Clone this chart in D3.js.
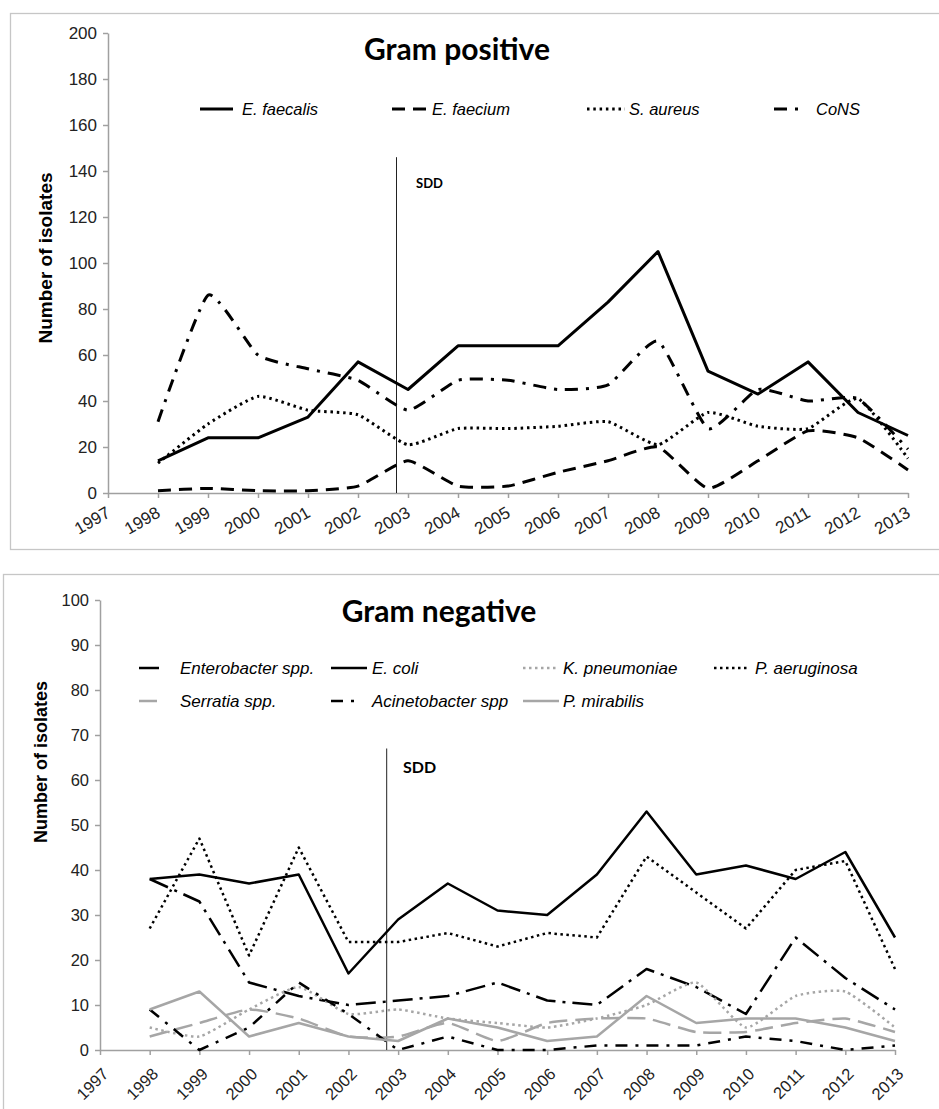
<!DOCTYPE html>
<html lang="en">

<head>
    <meta charset="utf-8">
    <title>Gram positive / Gram negative isolates</title>
    <!-- Import D3 visualization library -->
    <script src="https://d3js.org/d3.v7.min.js"></script>
    <style>
        body { margin: 0; background: white; }
        svg { display: block; }
        .tick text { font-family: "Liberation Sans", Arial, sans-serif; fill: #222; }
    </style>
</head>

<body>
    <div id="chart"></div>

    <script>
        // years on the x axis (1997 is only a tick, data starts in 1998)
        const tickYears = d3.range(1997, 2014);
        const years = d3.range(1998, 2014);
        const sddYear = 2002.77;

        // Gram positive series
        const eFaecalis = [14, 24, 24, 33, 57, 45, 64, 64, 64, 83, 105, 53, 43, 57, 35, 25];
        const eFaecium = [1, 2, 1, 1, 3, 14, 3, 3, 9, 14, 20, 2, 14, 27, 24, 10];
        const sAureus = [13, 30, 42, 36, 34, 21, 28, 28, 29, 31, 21, 35, 29, 28, 41, 15];
        const coNS = [31, 86, 60, 54, 49, 36, 49, 49, 45, 47, 66, 28, 45, 40, 41, 19];
        const posTicks = d3.range(0, 201, 20);

        // Gram negative series
        const enterobacter = [38, 33, 15, 12, 10, 11, 12, 15, 11, 10, 18, 14, 8, 25, 16, 9];
        const eColi = [38, 39, 37, 39, 17, 29, 37, 31, 30, 39, 53, 39, 41, 38, 44, 25];
        const kPneumoniae = [5, 3, 9, 14, 8, 9, 7, 6, 5, 7, 10, 15, 5, 12, 13, 5];
        const pAeruginosa = [27, 47, 21, 45, 24, 24, 26, 23, 26, 25, 43, 35, 27, 40, 42, 18];
        const serratia = [3, 6, 9, 7, 3, 3, 6, 2, 6, 7, 7, 4, 4, 6, 7, 4];
        const acinetobacter = [9, 0, 5, 15, 8, 0, 3, 0, 0, 1, 1, 1, 3, 2, 0, 1];
        const pMirabilis = [9, 13, 3, 6, 3, 2, 7, 5, 2, 3, 12, 6, 7, 7, 5, 2];
        const negTicks = d3.range(0, 101, 10);

        const black = "#000", gray = "#a6a6a6";

        const svg = d3.select("#chart")
            .append("svg")
            .attr("width", 939)
            .attr("height", 1109);

        // Gram positive chart
        drawChart({
            frame: [10.5, 13.5, 960, 536],
            x: [108, 908], y: [493, 33], yMax: 200, ticks: posTicks,
            title: "Gram positive", titleX: 457, titleY: 60,
            yLabelX: 52, yLabelY: 258, yFont: 19,
            sddTop: 146, sddLabel: [416, 188], sddFont: 13,
            xRot: -30, xLabDx: 3, xLabDy: 23, tickFont: 17, lineWidth: 3, legFont: 16.5,
            series: [
                { name: "E. faecalis", values: eFaecalis, color: black, dash: null, smooth: false, leg: [200, 233, 242, 109] },
                { name: "E. faecium", values: eFaecium, color: black, dash: "13,8", smooth: true, leg: [392, 428, 432, 109] },
                { name: "S. aureus", values: sAureus, color: black, dash: "2.5,3.8", smooth: true, leg: [587, 625, 629, 109] },
                { name: "CoNS", values: coNS, color: black, dash: "13,8,3,8", smooth: true, leg: [774, 800, 816, 109] }
            ]
        });

        // Gram negative chart
        drawChart({
            frame: [3.5, 574.5, 960, 600],
            x: [100, 895], y: [1050, 600], yMax: 100, ticks: negTicks,
            title: "Gram negative", titleX: 439, titleY: 622,
            yLabelX: 47, yLabelY: 762, yFont: 18,
            sddTop: 67, sddLabel: [403, 773], sddFont: 16,
            xRot: -45, xLabDx: 9, xLabDy: 25, tickFont: 16.5, lineWidth: 2.5, legFont: 17,
            series: [
                { name: "Enterobacter spp.", values: enterobacter, color: black, dash: "20,7,3,7", smooth: false, leg: [139, 165, 180, 668] },
                { name: "E. coli", values: eColi, color: black, dash: null, smooth: false, leg: [331, 367, 372, 668] },
                { name: "K. pneumoniae", values: kPneumoniae, color: gray, dash: "2.5,3.5", smooth: true, leg: [523, 559, 563, 668] },
                { name: "P. aeruginosa", values: pAeruginosa, color: black, dash: "2.5,3.5", smooth: false, leg: [714, 750, 755, 668] },
                { name: "Serratia spp.", values: serratia, color: gray, dash: "18,8", smooth: true, leg: [139, 165, 180, 701] },
                { name: "Acinetobacter spp", values: acinetobacter, color: black, dash: "12,8,3,8", smooth: false, leg: [331, 357, 372, 701] },
                { name: "P. mirabilis", values: pMirabilis, color: gray, dash: null, smooth: false, leg: [523, 559, 563, 701] }
            ]
        });

        function drawChart(c) {
            const g = svg.append("g");

            // outer frame of the chart area
            g.append("rect")
                .attr("x", c.frame[0]).attr("y", c.frame[1])
                .attr("width", c.frame[2]).attr("height", c.frame[3])
                .attr("fill", "none")
                .attr("stroke", "#c6c6c6")
                .attr("stroke-width", 1.3);

            const x = d3.scaleLinear().domain([1997, 2013]).range(c.x);
            const y = d3.scaleLinear().domain([0, c.yMax]).range(c.y);

            // y axis
            const yAxis = g.append("g")
                .attr("transform", "translate(" + c.x[0] + ",0)")
                .call(d3.axisLeft(y).tickValues(c.ticks).tickSize(5).tickSizeOuter(0).tickPadding(6));
            yAxis.selectAll("text").style("font-size", c.tickFont + "px");

            // x axis
            const xAxis = g.append("g")
                .attr("transform", "translate(0," + c.y[0] + ")")
                .call(d3.axisBottom(x).tickValues(tickYears).tickFormat(d3.format("d")).tickSize(5).tickSizeOuter(0));
            xAxis.selectAll("text")
                .style("font-size", c.tickFont + "px")
                .attr("text-anchor", "end")
                .attr("y", 0).attr("dy", 0)
                .attr("transform", "translate(" + c.xLabDx + "," + c.xLabDy + ") rotate(" + c.xRot + ")");

            g.selectAll(".domain, .tick line")
                .attr("stroke", "#a0a0a0")
                .attr("stroke-width", 1.5);

            // axis title
            g.append("text")
                .attr("transform", "translate(" + c.yLabelX + "," + c.yLabelY + ") rotate(-90)")
                .attr("text-anchor", "middle")
                .style("font-family", "'Liberation Sans', Arial, sans-serif")
                .style("font-weight", "bold")
                .style("font-size", c.yFont + "px")
                .text("Number of isolates");

            // chart title
            g.append("text")
                .attr("x", c.titleX).attr("y", c.titleY)
                .attr("text-anchor", "middle")
                .style("font-family", "Lato, 'Open Sans', sans-serif")
                .style("font-weight", "bold")
                .style("font-size", "30px")
                .text(c.title);

            // SDD marker
            g.append("line")
                .attr("x1", x(sddYear)).attr("x2", x(sddYear))
                .attr("y1", y(c.sddTop)).attr("y2", y(0))
                .attr("stroke", "#222")
                .attr("stroke-width", 1);
            g.append("text")
                .attr("x", c.sddLabel[0]).attr("y", c.sddLabel[1])
                .style("font-family", "Lato, 'Open Sans', sans-serif")
                .style("font-weight", "bold")
                .style("font-size", c.sddFont + "px")
                .text("SDD");

            // series lines
            c.series.forEach(s => {
                const line = d3.line()
                    .x((d, i) => x(years[i]))
                    .y(d => y(d))
                    .curve(s.smooth ? d3.curveCardinal.tension(0.5) : d3.curveLinear);

                g.append("path")
                    .datum(s.values)
                    .attr("d", line)
                    .attr("fill", "none")
                    .attr("stroke", s.color)
                    .attr("stroke-width", c.lineWidth)
                    .attr("stroke-dasharray", s.dash)
                    .attr("stroke-linejoin", "round");

                // legend entry
                g.append("line")
                    .attr("x1", s.leg[0]).attr("x2", s.leg[1])
                    .attr("y1", s.leg[3]).attr("y2", s.leg[3])
                    .attr("stroke", s.color)
                    .attr("stroke-width", c.lineWidth)
                    .attr("stroke-dasharray", s.dash);
                g.append("text")
                    .attr("x", s.leg[2]).attr("y", s.leg[3] + 6)
                    .style("font-family", "'Liberation Sans', Arial, sans-serif")
                    .style("font-style", "italic")
                    .style("font-size", c.legFont + "px")
                    .text(s.name);
            });
        }
    </script>
</body>
</html>
